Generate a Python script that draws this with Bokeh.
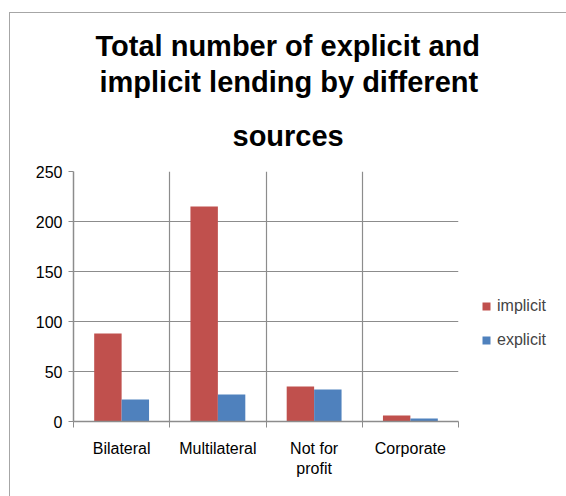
from bokeh.plotting import figure
from bokeh.models import FixedTicker, Legend, LegendItem, ColumnDataSource, Title
from bokeh.embed import file_html
from bokeh.resources import INLINE

categories = ["Bilateral", "Multilateral", "Not for profit", "Corporate"]
tick_labels = ["Bilateral", "Multilateral", "Not for\nprofit", "Corporate"]
implicit = [88, 215, 35, 6]
explicit = [22, 27, 32, 3]
series_names = ["implicit", "explicit"]
y_ticks = [0, 50, 100, 150, 200, 250]
title_lines = ["Total number of explicit and", "implicit lending by different", "sources"]

RED = "#C0504D"
BLUE = "#4F81BD"
GRID = "#8C8C8C"
FONT = "Liberation Sans"

n = len(categories)
centers = [i + 0.5 for i in range(n)]
bounds = [i for i in range(n + 1)]
bw = 0.285

src = ColumnDataSource(dict(
    xi=[c - bw / 2 for c in centers],
    xe=[c + bw / 2 for c in centers],
    imp=implicit, exp=explicit,
))

p = figure(frame_width=385, frame_height=250, x_range=(0, n), y_range=(0, 250),
           output_backend="svg", toolbar_location=None,
           min_border_left=63, min_border_right=109, min_border_top=158, min_border_bottom=76)
p.margin = (12, 0, 0, 9)
p.styles = {"border-top": "1.5px solid #A6A6A6", "border-left": "1.5px solid #A6A6A6"}
p.outline_line_color = None
p.background_fill_color = "white"
p.border_fill_color = "white"
p.title = None

r1 = p.vbar(x="xi", top="imp", width=bw, source=src, fill_color=RED, line_color=None)
r2 = p.vbar(x="xe", top="exp", width=bw, source=src, fill_color=BLUE, line_color=None)

# x axis
p.xaxis.ticker = FixedTicker(ticks=centers, minor_ticks=bounds)
p.xaxis.major_label_overrides = {c: t for c, t in zip(centers, tick_labels)}
p.xaxis.major_tick_out = 0
p.xaxis.major_tick_in = 0
p.xaxis.minor_tick_out = 6
p.xaxis.minor_tick_in = 0
p.xaxis.minor_tick_line_color = GRID
p.xaxis.axis_line_color = GRID
p.xaxis.axis_line_width = 1.5
p.xaxis.major_label_text_font = FONT
p.xaxis.major_label_text_font_size = "16px"
p.xaxis.major_label_text_color = "black"
p.xaxis.major_label_standoff = 12

# y axis
p.yaxis.ticker = FixedTicker(ticks=y_ticks)
p.yaxis.minor_tick_line_color = None
p.yaxis.major_tick_out = 5
p.yaxis.major_tick_in = 0
p.yaxis.major_tick_line_color = GRID
p.yaxis.axis_line_color = GRID
p.yaxis.axis_line_width = 1.5
p.yaxis.major_label_text_font = FONT
p.yaxis.major_label_text_font_size = "16px"
p.yaxis.major_label_text_color = "black"
p.yaxis.major_label_standoff = 6

# grids
p.ygrid.ticker = FixedTicker(ticks=y_ticks)
p.ygrid.grid_line_color = GRID
p.ygrid.grid_line_width = 1.2
p.xgrid.ticker = FixedTicker(ticks=bounds)
p.xgrid.grid_line_color = GRID
p.xgrid.grid_line_width = 1.2

# title: three lines, stacked outward from the frame; left offsets centre each line
title_offsets = [22, 26, 159]
title_standoffs = [4, 0, 40]
for line, off, so in reversed(list(zip(title_lines, title_offsets, title_standoffs))):
    p.add_layout(Title(text=line, text_font=FONT, text_font_size="29px",
                       text_font_style="bold", text_color="black", align="left",
                       offset=off, standoff=so), "above")

legend = Legend(items=[LegendItem(label=series_names[0], renderers=[r1]),
                       LegendItem(label=series_names[1], renderers=[r2])],
                location=(23, 72), glyph_width=10, glyph_height=10, spacing=16,
                label_text_font=FONT, label_text_font_size="16px",
                label_standoff=6, border_line_color=None, background_fill_alpha=0)
p.add_layout(legend, "right")

open("out.html", "w").write(file_html(p, INLINE))
